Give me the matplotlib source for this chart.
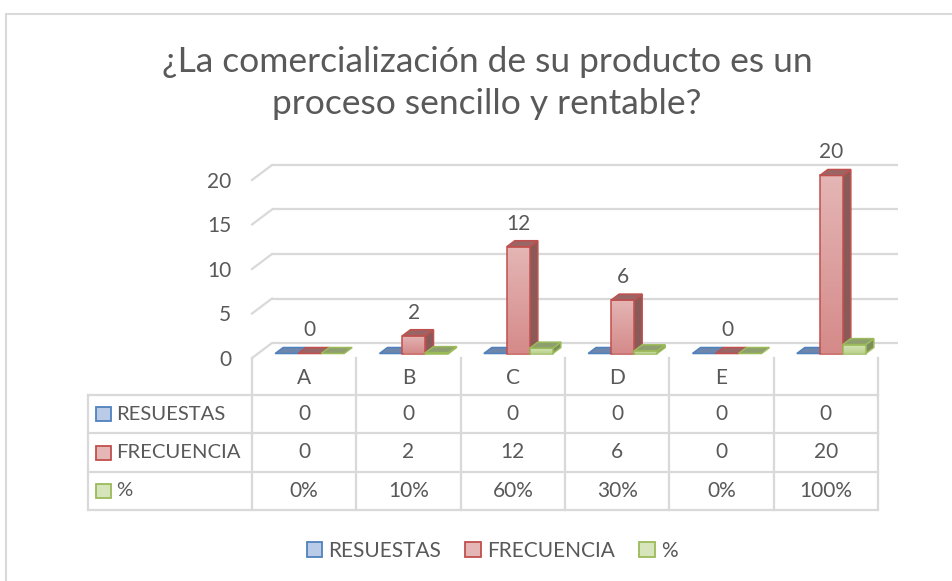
import matplotlib
matplotlib.use("Agg")
import matplotlib.pyplot as plt
from matplotlib.patches import Polygon, Rectangle, Patch
from matplotlib.lines import Line2D
from matplotlib.colors import LinearSegmentedColormap
import numpy as np

# ---------------- data ----------------
categories = ["A", "B", "C", "D", "E", ""]
series_names = ["RESUESTAS", "FRECUENCIA", "%"]
resuestas = [0, 0, 0, 0, 0, 0]
frecuencia = [0, 2, 12, 6, 0, 20]
porcentaje = [0.00, 0.10, 0.60, 0.30, 0.00, 1.00]
y_ticks = [0, 5, 10, 15, 20]
title_text = "¿La comercialización de su producto es un\nproceso sencillo y rentable?"

# ---------------- style ----------------
W, H = 953, 581
TXT = "#595959"
GRID = "#d9d9d9"
FONT = "Lato"
plt.rcParams["font.family"] = [FONT, "DejaVu Sans"]

styles = [
    dict(edge="#4f81bd", top="#6d86ab", side="#587399", c1="#b9cbe6", c2="#93acd6"),
    dict(edge="#c0504d", top="#9a6665", side="#8a5a59", c1="#e4b6b5", c2="#d58b8a"),
    dict(edge="#9bbb59", top="#8e9e6e", side="#7d8c5e", c1="#d6e5bb", c2="#bcd38f"),
]


def fx(px):
    return px / W


def fy(py):
    return 1 - py / H


fig = plt.figure(figsize=(W / 100, H / 100), dpi=100)
fig.patch.set_facecolor("white")

# chart frame
fig.add_artist(Rectangle((fx(6), fy(600)), fx(1000), fy(14) - fy(600),
                         transform=fig.transFigure, fill=False,
                         edgecolor=GRID, lw=1.5))

# title
fig.text(fx(487), fy(83), title_text, ha="center", va="center",
         fontsize=25.5, color=TXT, linespacing=1.38)

# ---------------- main plot area ----------------
x_left, x_right = 252, 878
y_zero, y_top = 358, 180
ax = fig.add_axes([fx(x_left), fy(y_zero), fx(x_right) - fx(x_left), fy(y_top) - fy(y_zero)])
ax.set_xlim(-0.5, len(categories) - 0.5)
ax.set_ylim(0, max(y_ticks))
for s in ax.spines.values():
    s.set_visible(False)
ax.set_xticks([])
ax.set_yticks(y_ticks)
ax.set_yticklabels([str(v) for v in y_ticks], fontsize=15, color=TXT)
ax.tick_params(axis="y", length=0, pad=15)
ax.patch.set_visible(False)

# pixel -> data units
cx = (len(categories)) / (x_right - x_left)
cy = max(y_ticks) / (y_zero - y_top)

wall_dx, wall_dy = 20 * cx, 15 * cy          # back wall offset
bar_dx, bar_dy = 5.5 * cx, 4.5 * cy          # bar front plane offset
dep_dx, dep_dy = 8 * cx, 6 * cy              # bar depth
bw = 23 * cx                                 # bar width

x0, x1 = -0.5, len(categories) - 0.5
for v in y_ticks:
    ax.plot([x0 + wall_dx, x1 + wall_dx], [v + wall_dy, v + wall_dy],
            color=GRID, lw=1.6, solid_capstyle="butt", zorder=1, clip_on=False)
    ax.plot([x0, x0 + wall_dx], [v, v + wall_dy], color=GRID, lw=1.6,
            zorder=1, clip_on=False)

all_series = [resuestas, frecuencia, porcentaje]
xs = np.arange(len(categories))

for ci in range(len(categories)):
    for si, vals in enumerate(all_series):
        st = styles[si]
        v = vals[ci]
        xc = xs[ci] + (si - 1) * bw + bar_dx
        xa, xb = xc - bw / 2, xc + bw / 2
        b = bar_dy
        z = 3 + ci * 3 + si * 0.3
        # front face
        if v > 0:
            rects = ax.bar([xc], [v], width=bw, bottom=b, color="none",
                           edgecolor=st["edge"], lw=1.1, zorder=z + 0.2, clip_on=False)
            rect = rects.patches[0]
            cmap = LinearSegmentedColormap.from_list("g", [st["c2"], st["c1"]])
            grad = np.linspace(0, 1, 64).reshape(-1, 1)
            im = ax.imshow(grad, extent=[xa, xb, b, b + v], origin="lower",
                           cmap=cmap, aspect="auto", zorder=z + 0.1, clip_on=False)
            im.set_clip_path(rect)
            # side face
            ax.add_patch(Polygon([(xb, b), (xb + dep_dx, b + dep_dy),
                                  (xb + dep_dx, b + v + dep_dy), (xb, b + v)],
                                 closed=True, facecolor=st["side"], edgecolor=st["edge"],
                                 lw=1.1, zorder=z, clip_on=False))
        # top face
        ax.add_patch(Polygon([(xa, b + v), (xb, b + v), (xb + dep_dx, b + v + dep_dy),
                              (xa + dep_dx, b + v + dep_dy)],
                             closed=True, facecolor=st["top"], edgecolor=st["edge"],
                             lw=1.1, zorder=z + 0.25, clip_on=False))
        if si == 1:
            ax.annotate(str(v), xy=(xc, b + v + dep_dy), xytext=(0, 8),
                        textcoords="offset points", ha="center", va="baseline",
                        fontsize=15, color=TXT, zorder=50, annotation_clip=False)

ax.set_xlim(-0.5, len(categories) - 0.5)
ax.set_ylim(0, max(y_ticks))

# ---------------- data table ----------------
tab_left = 88
col_w = (x_right - x_left) / len(categories)
col_edges = [x_left + k * col_w for k in range(len(categories) + 1)]
row_lines = [395, 433, 472, 510]
header_top = 358


def fline(xs_, ys_):
    fig.add_artist(Line2D([fx(a) for a in xs_], [fy(b) for b in ys_],
                          transform=fig.transFigure, color=GRID, lw=1.6))


for yl in row_lines:
    fline([tab_left, x_right], [yl, yl])
fline([tab_left, tab_left], [row_lines[0], row_lines[-1]])
for xe in col_edges:
    fline([xe, xe], [header_top, row_lines[-1]])

for k, cat in enumerate(categories):
    xcen = (col_edges[k] + col_edges[k + 1]) / 2
    fig.text(fx(xcen), fy((header_top + row_lines[0]) / 2 + 2), cat, ha="center",
             va="center", fontsize=15, color=TXT)

row_values = [
    [str(v) for v in resuestas],
    [str(v) for v in frecuencia],
    ["{:.0f}%".format(p * 100) for p in porcentaje],
]
for r in range(3):
    ymid = (row_lines[r] + row_lines[r + 1]) / 2
    st = styles[r]
    fig.add_artist(Rectangle((fx(96), fy(ymid + 7)), fx(15), fy(ymid - 7) - fy(ymid + 7),
                             transform=fig.transFigure, facecolor=st["c1"],
                             edgecolor=st["edge"], lw=1.3))
    fig.text(fx(116), fy(ymid), series_names[r], ha="left", va="center",
             fontsize=14.6, color=TXT)
    for k in range(len(categories)):
        xcen = (col_edges[k] + col_edges[k + 1]) / 2
        fig.text(fx(xcen), fy(ymid), row_values[r][k], ha="center", va="center",
                 fontsize=15, color=TXT)

# ---------------- legend ----------------
handles = [Patch(facecolor=s["c1"], edgecolor=s["edge"], lw=1.3) for s in styles]
fig.legend(handles, series_names, loc="center", bbox_to_anchor=(fx(492), fy(551)),
           ncol=3, frameon=False, fontsize=15, handlelength=0.75, handleheight=0.75,
           handletextpad=0.3, columnspacing=1.15, labelcolor=TXT)

fig.savefig("out.png", dpi=100, facecolor="white")
